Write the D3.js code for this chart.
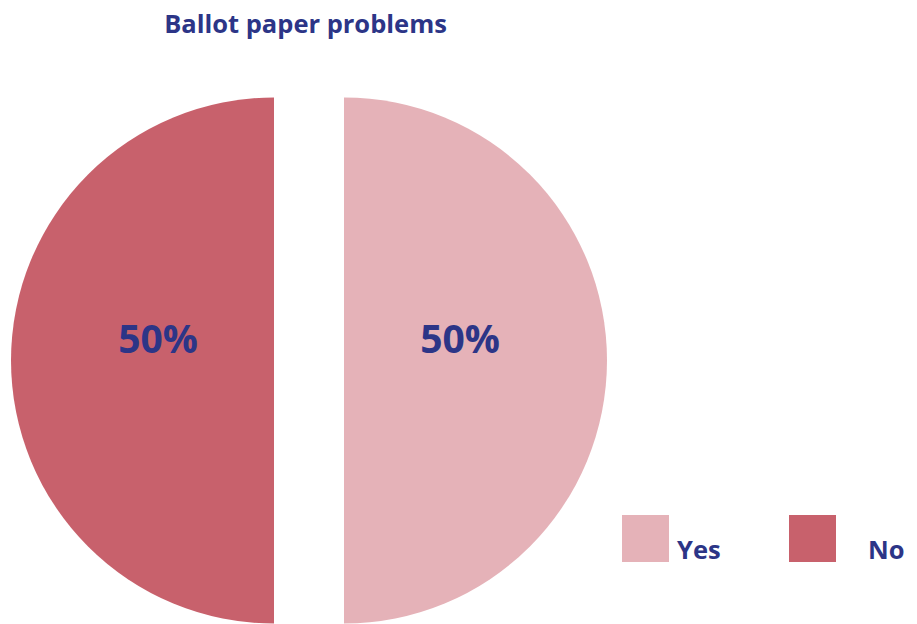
<!DOCTYPE html>
<html>
<head>
<meta charset="utf-8">
<script src="https://cdn.jsdelivr.net/npm/d3@7"></script>
<style>
  html, body { margin: 0; padding: 0; background: #fff; }
  svg { display: block; }
  text { font-family: "Open Sans", "Noto Sans", sans-serif; font-weight: 700; fill: #2c3587; }
</style>
</head>
<body>
<svg id="chart" width="917" height="624"></svg>
<script>
// Survey answers
const categories = ["Yes", "No"];
const values = [50, 50];
const colors = ["#e5b2b8", "#c8616c"];
const title = "Ballot paper problems";

const svg = d3.select("#chart");
const cx = 309, cy = 360.5, radius = 263, explode = 35;

svg.append("text")
  .attr("x", 305.5).attr("y", 33)
  .attr("text-anchor", "middle")
  .style("font-size", "25.5px")
  .text(title);

const data = categories.map((c, i) => ({ name: c, value: values[i], color: colors[i] }));
const total = d3.sum(values);

const pie = d3.pie().sort(null).value(d => d.value);
const arc = d3.arc().innerRadius(0).outerRadius(radius);
const labelArc = d3.arc().innerRadius(116).outerRadius(116);

const g = svg.append("g").attr("transform", `translate(${cx},${cy})`);
const slices = g.selectAll("g.slice").data(pie(data)).join("g")
  .attr("class", "slice")
  .attr("transform", d => {
    const a = (d.startAngle + d.endAngle) / 2;
    return `translate(${explode * Math.sin(a)},${-explode * Math.cos(a)})`;
  });

slices.append("path")
  .attr("d", arc)
  .attr("fill", d => d.data.color);

slices.append("text")
  .attr("transform", d => {
    const [x, y] = labelArc.centroid(d);
    return `translate(${x},${y - 8})`;
  })
  .attr("text-anchor", "middle")
  .style("font-size", "39px")
  .text(d => Math.round(d.data.value / total * 100) + "%");

// Legend
const legendX = [622, 789];
const legendTextX = [677, 868];
const legend = svg.append("g");
data.forEach((d, i) => {
  legend.append("rect")
    .attr("x", legendX[i]).attr("y", 515)
    .attr("width", 47).attr("height", 47)
    .attr("fill", d.color);
  legend.append("text")
    .attr("x", legendTextX[i]).attr("y", 559)
    .style("font-size", "25.5px")
    .text(d.name);
});
</script>
</body>
</html>
